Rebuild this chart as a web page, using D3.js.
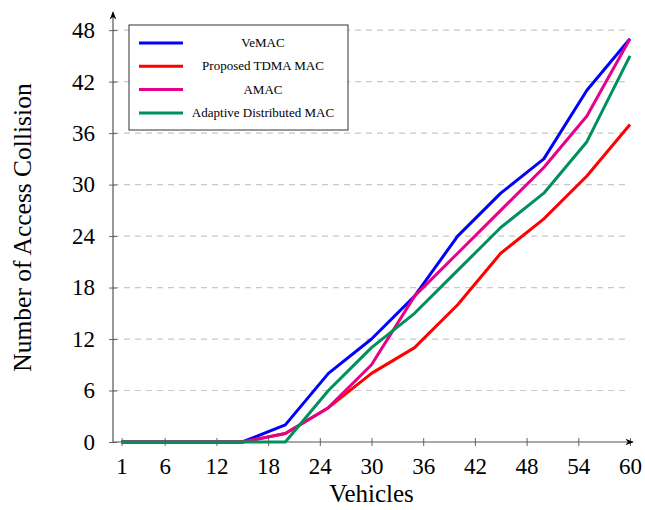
<!DOCTYPE html>
<html>
<head>
<meta charset="utf-8">
<script src="https://cdn.jsdelivr.net/npm/d3@7"></script>
<style>
  body { margin: 0; background: #fff; }
  text { font-family: "Liberation Serif", "DejaVu Serif", serif; }
</style>
</head>
<body>
<div class="chart"></div>
<script>
var vehicles = [1, 5, 10, 15, 20, 25, 30, 35, 40, 45, 50, 55, 60];
var vemac    = [0, 0, 0, 0, 2, 8, 12, 17, 24, 29, 33, 41, 47];
var tdma     = [0, 0, 0, 0, 1, 4, 8, 11, 16, 22, 26, 31, 37];
var amac     = [0, 0, 0, 0, 1, 4, 9, 17, 22, 27, 32, 38, 47];
var adaptive = [0, 0, 0, 0, 0, 6, 11, 15, 20, 25, 29, 35, 45];
var xTicks = [1, 6, 12, 18, 24, 30, 36, 42, 48, 54, 60];
var yTicks = [0, 6, 12, 18, 24, 30, 36, 42, 48];
var seriesNames = ["VeMAC", "Proposed TDMA MAC", "AMAC", "Adaptive Distributed MAC"];
var seriesColors = ["#0000ff", "#ff0000", "#e6008a", "#00915a"];

var svgWidth = 645, svgHeight = 510;
var margin = { top: 13, right: 15, bottom: 68, left: 113 };
var width = 630 - margin.left;   // x axis ends at xmax
var height = svgHeight - margin.top - margin.bottom;

var svg = d3.select(".chart").append("svg")
  .attr("width", svgWidth)
  .attr("height", svgHeight);

var chartGroup = svg.append("g")
  .attr("transform", `translate(${margin.left}, ${margin.top})`);

var x = d3.scaleLinear().domain([0, 60]).range([0, width]);
var y = d3.scaleLinear().domain([0, 50]).range([height, 0]);

// grid
chartGroup.selectAll(".grid").data(yTicks.filter(d => d > 0)).enter()
  .append("line")
  .attr("x1", 0).attr("x2", width)
  .attr("y1", d => y(d)).attr("y2", d => y(d))
  .attr("stroke", "#c8c8c8").attr("stroke-width", 1.2)
  .attr("stroke-dasharray", "6,5");

// axes
var bottomAxis = d3.axisBottom(x).tickValues(xTicks).tickSizeInner(4).tickSizeOuter(0).tickPadding(12);
var leftAxis = d3.axisLeft(y).tickValues(yTicks).tickSizeInner(4).tickSizeOuter(0).tickPadding(14);

var gx = chartGroup.append("g").attr("transform", `translate(0, ${height})`).call(bottomAxis);
var gy = chartGroup.append("g").call(leftAxis);
[gx, gy].forEach(function (g) {
  g.select(".domain").remove();
  g.selectAll(".tick line").attr("stroke", "#666");
  g.selectAll(".tick text").attr("font-size", 23).attr("fill", "#000")
    .style("font-family", "'Liberation Serif', serif");
});
gx.selectAll(".tick line").attr("y1", -4);
gy.selectAll(".tick line").attr("x1", 4);

svg.append("defs").append("marker")
  .attr("id", "arrow").attr("viewBox", "0 0 10 10")
  .attr("refX", 9).attr("refY", 5)
  .attr("markerWidth", 7).attr("markerHeight", 7)
  .attr("orient", "auto")
  .append("path").attr("d", "M0,1 L10,5 L0,9 L3,5 Z").attr("fill", "#000");

chartGroup.append("line")
  .attr("x1", 0).attr("x2", width + 3)
  .attr("y1", height).attr("y2", height)
  .attr("stroke", "#555").attr("stroke-width", 1.2)
  .attr("marker-end", "url(#arrow)");
chartGroup.append("line")
  .attr("x1", 0).attr("x2", 0)
  .attr("y1", height).attr("y2", -1)
  .attr("stroke", "#555").attr("stroke-width", 1.2)
  .attr("marker-end", "url(#arrow)");

// series
var lineGen = d3.line().x((d, i) => x(vehicles[i])).y(d => y(d));
[vemac, tdma, amac, adaptive].forEach(function (vals, k) {
  chartGroup.append("path")
    .datum(vals)
    .attr("fill", "none")
    .attr("stroke", seriesColors[k])
    .attr("stroke-width", 3)
    .attr("stroke-linejoin", "round")
    .attr("d", lineGen);
});

// legend
var legend = svg.append("g").attr("transform", "translate(129, 25)");
legend.append("rect")
  .attr("width", 219).attr("height", 105)
  .attr("fill", "#fff").attr("stroke", "#333").attr("stroke-width", 1);
seriesNames.forEach(function (name, k) {
  var yy = 18 + k * 23.3;
  legend.append("line")
    .attr("x1", 10).attr("x2", 54).attr("y1", yy).attr("y2", yy)
    .attr("stroke", seriesColors[k]).attr("stroke-width", 3);
  legend.append("text")
    .attr("x", 134).attr("y", yy + 4)
    .attr("text-anchor", "middle")
    .attr("font-size", 13)
    .text(name);
});

// labels
svg.append("text")
  .attr("transform", "translate(31," + (margin.top + height / 2) + ") rotate(-90)")
  .attr("text-anchor", "middle")
  .attr("font-size", 25.5)
  .text("Number of Access Collision");

svg.append("text")
  .attr("x", margin.left + x(30)).attr("y", 502)
  .attr("text-anchor", "middle")
  .attr("font-size", 25)
  .text("Vehicles");
</script>
</body>
</html>
